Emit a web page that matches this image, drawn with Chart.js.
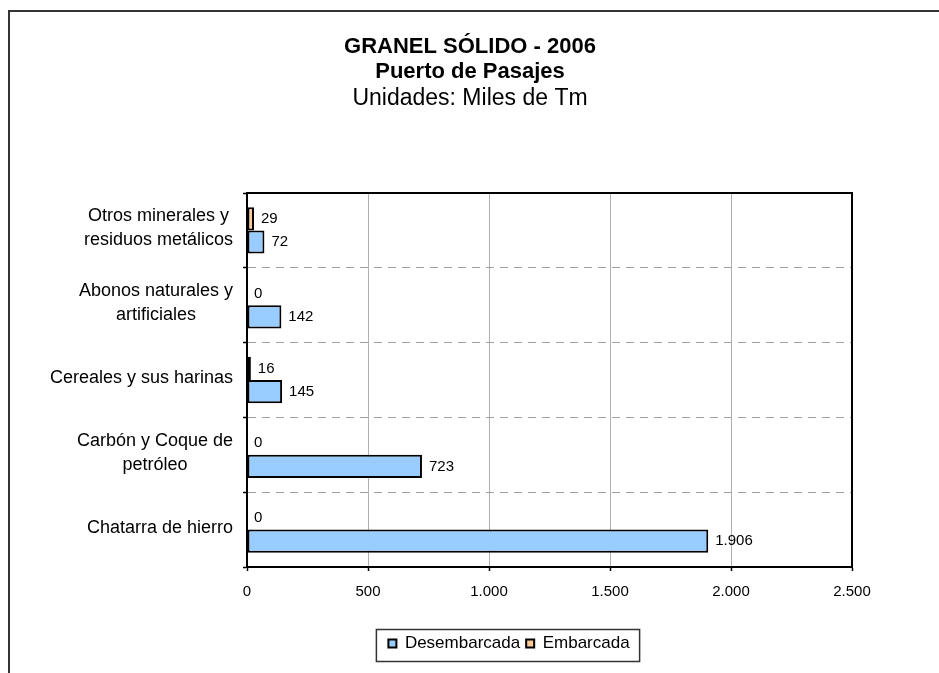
<!DOCTYPE html>
<html lang="es">
<head>
<meta charset="utf-8">
<title>Granel sólido 2006 - Puerto de Pasajes</title>
<script src="https://cdn.jsdelivr.net/npm/chart.js@4.4.1/dist/chart.umd.min.js"></script>
<style>
  html, body { margin: 0; padding: 0; background: #fff; overflow: hidden; }
  #frame {
    position: absolute; left: 8px; top: 10px; width: 1200px; height: 900px;
    border-left: 2px solid #333; border-top: 2px solid #333;
  }
  #chart { position: absolute; left: 0; top: 0; }
</style>
</head>
<body>
<div id="frame"></div>
<canvas id="chart" width="939" height="673"></canvas>
<script>
const FONT = 'Arial, "Liberation Sans", sans-serif';

// categories, top to bottom (multi-line labels)
const categories = [
    ['Otros minerales y', 'residuos metálicos'],
    ['Abonos naturales y', 'artificiales'],
    ['Cereales y sus harinas'],
    ['Carbón y Coque de', 'petróleo'],
    ['Chatarra de hierro']
];
// miles de Tm
const desembarcada = [72, 142, 145, 723, 1906];
const embarcada = [29, 0, 16, 0, 0];
const xTicks = [0, 500, 1000, 1500, 2000, 2500];

const fmt = v => String(v).replace(/\B(?=(\d{3})+(?!\d))/g, '.');

// black frame round the plot area
const plotFrame = {
    id: 'plotFrame',
    afterDatasetsDraw(chart) {
        const { left, top, right, bottom } = chart.chartArea;
        const ctx = chart.ctx;
        ctx.save();
        ctx.strokeStyle = '#000';
        ctx.lineWidth = 2;
        ctx.strokeRect(left, top, right - left, bottom - top);
        ctx.restore();
    }
};

// value next to every bar
const valueLabels = {
    id: 'valueLabels',
    afterDatasetsDraw(chart) {
        const ctx = chart.ctx;
        ctx.save();
        ctx.font = '15px ' + FONT;
        ctx.fillStyle = '#000';
        ctx.textAlign = 'left';
        ctx.textBaseline = 'middle';
        chart.data.datasets.forEach((ds, d) => {
            chart.getDatasetMeta(d).data.forEach((bar, i) => {
                ctx.fillText(fmt(ds.data[i]), bar.x + 7, bar.y);
            });
        });
        ctx.restore();
    }
};

// category labels: each block centred on itself, right aligned to the axis
const categoryLabels = {
    id: 'categoryLabels',
    afterDraw(chart) {
        const y = chart.scales.y;
        const ctx = chart.ctx;
        ctx.save();
        ctx.font = '18px ' + FONT;
        ctx.fillStyle = '#000';
        ctx.textAlign = 'center';
        ctx.textBaseline = 'middle';
        categories.forEach((lines, i) => {
            const widest = Math.max(...lines.map(l => ctx.measureText(l).width));
            const cx = y.right - 14 - widest / 2;
            const cy = y.getPixelForTick(i) - 2;
            lines.forEach((line, j) => {
                ctx.fillText(line, cx, cy + (j - (lines.length - 1) / 2) * 24);
            });
        });
        ctx.restore();
    }
};

// titles centred on the whole page, legend a bit right of centre inside a box
const boxLayout = {
    id: 'boxLayout',
    afterLayout(chart) {
        chart.boxes.filter(b => b.position === 'top' && b.fullSize).forEach(b => {
            b.left = 0;
            b.right = chart.width + 1;
        });
        const lg = chart.legend;
        const dx = 509 - (lg.left + lg.right) / 2;
        lg.left += dx;
        lg.right += dx;
    },
    afterDraw(chart) {
        const lg = chart.legend;
        const boxes = lg.legendHitBoxes;
        if (!boxes || !boxes.length) return;
        const first = boxes[0], last = boxes[boxes.length - 1];
        const x0 = first.left - 12;
        const x1 = last.left + last.width + 10;
        const ctx = chart.ctx;
        ctx.save();
        ctx.strokeStyle = '#333';
        ctx.lineWidth = 1.5;
        ctx.strokeRect(x0, lg.top + 0.5, x1 - x0, lg.bottom - lg.top - 1);
        ctx.restore();
    }
};

new Chart(document.getElementById('chart'), {
    type: 'bar',
    data: {
        labels: categories,
        datasets: [
            {
                label: 'Embarcada',
                data: embarcada,
                backgroundColor: '#FFCC99',
                borderColor: '#000',
                borderWidth: 2,
                borderSkipped: false
            },
            {
                label: 'Desembarcada',
                data: desembarcada,
                backgroundColor: '#99CCFF',
                borderColor: '#000',
                borderWidth: 2,
                borderSkipped: false
            }
        ]
    },
    options: {
        indexAxis: 'y',
        responsive: false,
        animation: false,
        devicePixelRatio: 1,
        categoryPercentage: 0.62,
        barPercentage: 1,
        layout: { padding: { left: 0, right: 87, top: 0, bottom: 11 } },
        plugins: {
            title: {
                display: true,
                text: ['GRANEL SÓLIDO - 2006', 'Puerto de Pasajes'],
                color: '#000',
                font: { family: FONT, size: 22, weight: 'bold', lineHeight: 25 / 22 },
                padding: { top: 34.5, bottom: 0 }
            },
            subtitle: {
                display: true,
                text: 'Unidades: Miles de Tm',
                color: '#000',
                font: { family: FONT, size: 23, weight: 'normal', lineHeight: 1.2 },
                padding: { top: 0, bottom: 80.9 }
            },
            legend: {
                position: 'bottom',
                reverse: true,
                labels: {
                    color: '#000',
                    font: { family: FONT, size: 17 },
                    boxWidth: 8,
                    boxHeight: 8,
                    padding: 6
                }
            },
            tooltip: { enabled: false }
        },
        scales: {
            x: {
                min: 0,
                max: 2500,
                afterBuildTicks: scale => { scale.ticks = xTicks.map(v => ({ value: v })); },
                afterFit: scale => { scale.height = 62; },
                grid: { color: '#b0b0b0', lineWidth: 1, tickLength: 4, tickColor: '#000', tickWidth: 1.5 },
                border: { color: '#000', width: 2 },
                ticks: {
                    color: '#000',
                    padding: 12,
                    font: { family: FONT, size: 15 },
                    callback: v => fmt(v)
                }
            },
            y: {
                afterFit: scale => { scale.width = 247; },
                grid: {
                    color: '#a0a0a0', lineWidth: 1, offset: true,
                    tickLength: 4, tickColor: '#000', tickWidth: 1.5, tickBorderDash: []
                },
                border: { color: '#000', width: 2, dash: [8, 6] },
                ticks: { display: false }
            }
        }
    },
    plugins: [plotFrame, valueLabels, categoryLabels, boxLayout]
});
</script>
</body>
</html>
